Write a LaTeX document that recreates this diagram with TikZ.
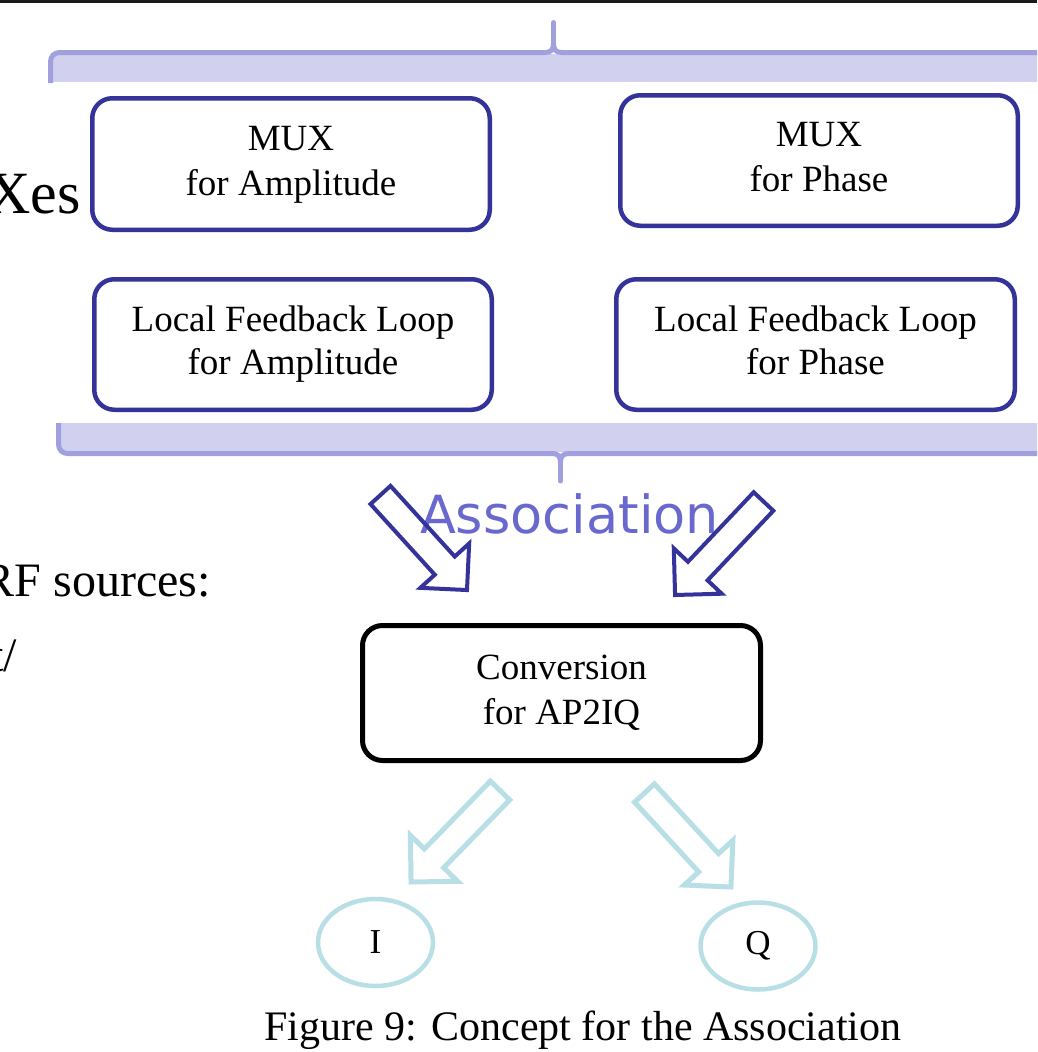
\documentclass[tikz,border=0pt]{standalone}
\usepackage{fontspec}
\setmainfont{Liberation Serif}
\newfontfamily\assocfont{DejaVu Sans}
\usetikzlibrary{shapes.geometric}

\definecolor{navy}{RGB}{51,51,153}
\definecolor{braceline}{RGB}{160,160,222}
\definecolor{bracefill}{RGB}{209,209,239}
\definecolor{assoctext}{RGB}{104,104,206}
\definecolor{aqua}{RGB}{184,223,230}

% hollow block arrow: tail centre, rotation, length; shaft half-width 13.5, head 33
\newcommand\hollowarrow[5]{%
  \begin{scope}[shift={(#2,#3)}, rotate=#4]
    \draw[#1] (0,-13.5) -- ({#5-33},-13.5) -- ({#5-33},-33) -- (#5,0)
      -- ({#5-33},33) -- ({#5-33},13.5) -- (0,13.5) -- cycle;
  \end{scope}}

\begin{document}
\begin{tikzpicture}[x=1pt,y=-1pt,
  box/.style={draw=navy, line width=4.5pt, rounded corners=20pt, inner sep=0pt},
  convbox/.style={draw=black, line width=5pt, rounded corners=20pt, inner sep=0pt},
  boxtext/.style={font=\fontsize{37}{44}\selectfont, anchor=base, inner sep=0pt},
  sidetext/.style={inner sep=0pt, anchor=base east},
  brace/.style={draw=braceline, line width=5pt},
  navyarrow/.style={draw=navy, line width=4pt, line join=miter},
  aquaarrow/.style={draw=aqua, line width=5pt, line join=miter},
  outcome/.style={ellipse, draw=aqua, line width=4.5pt, inner sep=0pt,
    minimum width=115pt, minimum height=87pt, font=\fontsize{35}{40}\selectfont}]

\useasboundingbox (0,0) rectangle (1037,1052);
\clip (0,0) rectangle (1037,1052);
\fill[white] (0,0) rectangle (1037,1052);
\fill[black!90] (0,0) rectangle (1037,2.5);

% upper brace with its shaded band
\fill[bracefill] (52,54) rectangle (1040,82);
\draw[brace] (50.5,83) [rounded corners=9pt] -- (50.5,52.5) [sharp corners] -- (545,52.5)
  .. controls (551,52.5) and (553.5,50) .. (553.5,43);
\draw[brace] (553.5,43) .. controls (553.5,50) and (556,52.5) .. (562,52.5) -- (1045,52.5);
\draw[brace, line cap=round] (553.5,44) -- (553.5,22.5);

% lower brace with its shaded band
\fill[bracefill] (60,423) rectangle (1040,452);
\draw[brace] (58.5,423) [rounded corners=9pt] -- (58.5,453.5) [sharp corners] -- (552,453.5)
  .. controls (558,453.5) and (560.5,456) .. (560.5,463);
\draw[brace] (560.5,463) .. controls (560.5,456) and (563,453.5) .. (569,453.5) -- (1045,453.5);
\draw[brace, line cap=round] (560.5,462) -- (560.5,481);

% text running in from the left margin
\node[sidetext, font=\fontsize{60}{70}\selectfont] (xes) at (81,213) {Xes};
\node[sidetext, font=\fontsize{48}{56}\selectfont] (rfsrc) at (211,596) {RF sources:};
\node[sidetext, font=\fontsize{48}{56}\selectfont] (tslash) at (17,671) {t/};

% amplitude / phase blocks
\node[box, minimum width=397.5pt, minimum height=131.5pt] (muxA) at (291,164) {};
\node[boxtext] (muxAa) at (291,150) {MUX};
\node[boxtext] (muxAb) at (291,195) {for Amplitude};

\node[box, minimum width=397.5pt, minimum height=130.5pt] (muxP) at (819,160.5) {};
\node[boxtext] (muxPa) at (819,146) {MUX};
\node[boxtext] (muxPb) at (819,191) {for Phase};

\node[box, minimum width=397.5pt, minimum height=130.5pt] (lflA) at (293,344.5) {};
\node[boxtext] (lflAa) at (293,331) {Local Feedback Loop};
\node[boxtext] (lflAb) at (293,374) {for Amplitude};

\node[box, minimum width=398.5pt, minimum height=130.5pt] (lflP) at (815.5,344.5) {};
\node[boxtext] (lflPa) at (815.5,331) {Local Feedback Loop};
\node[boxtext] (lflPb) at (815.5,374) {for Phase};

% association
\node[inner sep=0pt, anchor=base, text=assoctext, font=\assocfont\fontsize{52.5}{62}\selectfont]
  (assoc) at (569.5,533) {Association};
\hollowarrow{navyarrow}{380.5}{495}{-47.7}{128.5}
\hollowarrow{navyarrow}{763.5}{501.5}{-133.4}{128.7}

% conversion block
\node[convbox, minimum width=398pt, minimum height=135pt] (conv) at (561.5,693) {};
\node[boxtext] (conva) at (561.5,679) {Conversion};
\node[boxtext] (convb) at (561.5,724) {for AP2IQ};

% outputs
\hollowarrow{aquaarrow}{500}{790.5}{-134.2}{127.6}
\hollowarrow{aquaarrow}{644.5}{793}{-47.4}{127.7}
\node[outcome] (outI) at (375.5,942.5) {I};
\node[outcome] (outQ) at (758,946) {Q};

% caption
\node[inner sep=0pt, anchor=base, font=\fontsize{42}{50}\selectfont] (caption)
  at (583,1040) {Figure 9: Concept for the Association};
\end{tikzpicture}
\end{document}
